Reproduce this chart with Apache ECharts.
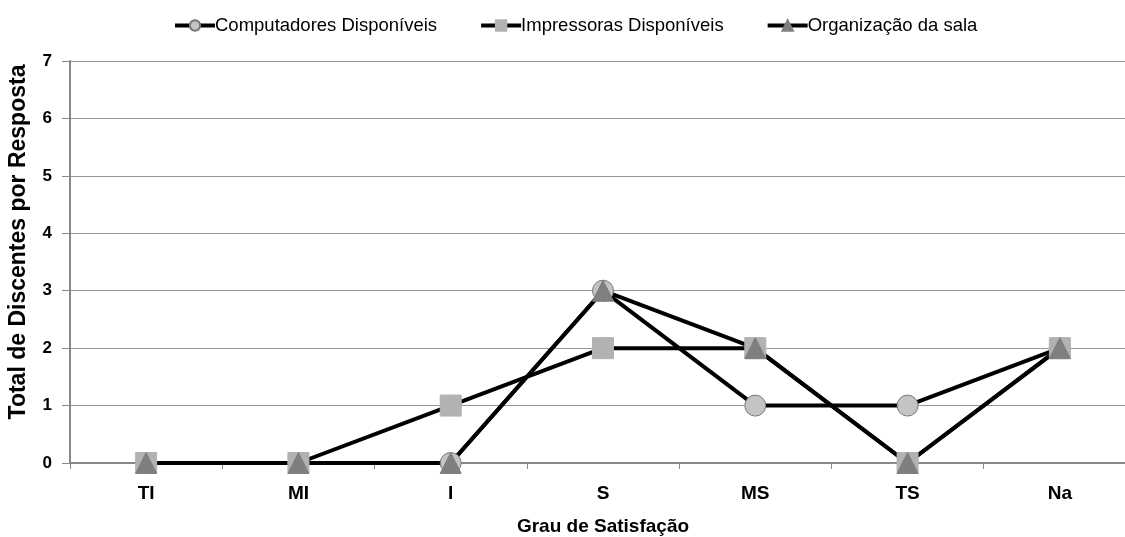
<!DOCTYPE html>
<html>
<head>
<meta charset="utf-8">
<script src="https://cdn.jsdelivr.net/npm/echarts@6/dist/echarts.min.js"></script>
<style>
  html, body { margin: 0; padding: 0; background: #fff; overflow: hidden; }
  #chart { width: 1125px; height: 537px; }
</style>
</head>
<body>
<div id="chart"></div>
<script>
// Satisfaction levels on the x axis
const categories = ['TI', 'MI', 'I', 'S', 'MS', 'TS', 'Na'];
// Number of students per answer
const computadores = [0, 0, 0, 3, 1, 1, 2];
const impressoras = [0, 0, 1, 2, 2, 0, 2];
const organizacao = [0, 0, 0, 3, 2, 0, 2];
const seriesNames = ['Computadores Disponíveis', 'Impressoras Disponíveis', 'Organização da sala'];

const chart = echarts.init(document.getElementById('chart'));
const boldFont = '"Liberation Sans", Arial, sans-serif';

function lineSeries(name, data, symbol, size, color, border) {
  return {
    name: name,
    type: 'line',
    data: data,
    symbol: symbol,
    symbolSize: size,
    showAllSymbol: true,
    lineStyle: { color: '#000', width: 4 },
    itemStyle: { color: color, borderColor: border, borderWidth: 1 },
    emphasis: { disabled: true },
    animation: false
  };
}

chart.setOption({
  animation: false,
  legend: {
    top: 16,
    left: 173,
    padding: 0,
    itemGap: 42,
    itemWidth: 40,
    itemHeight: 13,
    lineStyle: { width: 4, color: '#000' },
    textStyle: { fontFamily: boldFont, fontSize: 18.5, color: '#000', padding: [0, 0, 0, -5] },
    data: seriesNames
  },
  // the plot runs a little past the right edge of the page
  grid: { left: 70, width: 1066, top: 61, bottom: 74, containLabel: false, outerBoundsMode: 'none' },
  xAxis: {
    type: 'category',
    data: categories,
    boundaryGap: true,
    name: 'Grau de Satisfação',
    nameLocation: 'middle',
    nameGap: 54,
    nameTextStyle: { fontFamily: boldFont, fontWeight: 'bold', fontSize: 19, color: '#000' },
    axisLine: { lineStyle: { color: '#888', width: 2 } },
    axisTick: { show: true, length: 6, lineStyle: { color: '#888' } },
    axisLabel: { fontFamily: boldFont, fontWeight: 'bold', fontSize: 19, color: '#000', margin: 21 }
  },
  yAxis: {
    type: 'value',
    min: 0,
    max: 7,
    interval: 1,
    name: 'Total de Discentes por Resposta',
    nameLocation: 'middle',
    nameGap: 40,
    nameTextStyle: { fontFamily: boldFont, fontWeight: 'bold', fontSize: 23, color: '#000', padding: [0, 0, 0, 40] },
    axisLine: { show: true, lineStyle: { color: '#888', width: 2 } },
    axisTick: { show: true, length: 8, lineStyle: { color: '#888' } },
    axisLabel: { fontFamily: boldFont, fontWeight: 'bold', fontSize: 17, color: '#000', margin: 18 },
    splitLine: { show: true, lineStyle: { color: '#999', width: 1 } }
  },
  series: [
    lineSeries(seriesNames[0], computadores, 'circle', 21, '#c4c4c4', '#777'),
    lineSeries(seriesNames[1], impressoras, 'rect', 21, '#b2b2b2', '#b2b2b2'),
    lineSeries(seriesNames[2], organizacao, 'triangle', 21, '#7f7f7f', '#7f7f7f')
  ]
});
</script>
</body>
</html>
